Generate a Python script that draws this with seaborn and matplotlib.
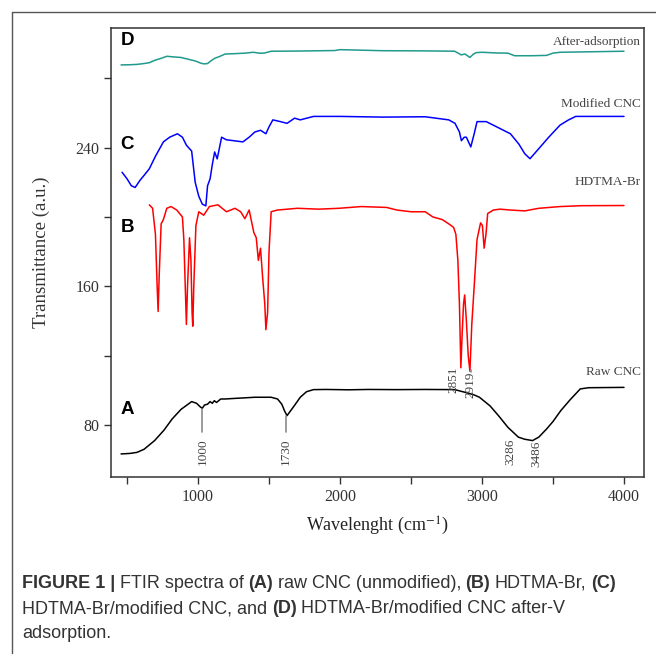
import numpy as np
import pandas as pd
import matplotlib
matplotlib.use('Agg')
import matplotlib.pyplot as plt
from matplotlib.lines import Line2D
from matplotlib.ticker import FixedLocator
import seaborn as sns

# ── data (wavenumber cm-1, transmittance a.u.) ─────────────────────────────
raw_x = [458, 520, 570, 620, 694, 760, 818, 880, 955, 990, 1015, 1030, 1045, 1067,
         1085, 1100, 1115, 1130, 1160, 1191, 1250, 1316, 1400, 1515, 1560, 1590, 1610,
         1627, 1650, 1677, 1720, 1764, 1813, 1900, 2062, 2200, 2400, 2600, 2808, 2883,
         2940, 2982, 3057, 3120, 3182, 3256, 3300, 3356, 3400, 3455, 3500, 3555, 3620,
         3692, 3750, 4000]
raw_y = [63.3, 63.6, 64.2, 66, 71, 77, 83.5, 89, 93.5, 92.5, 90.5, 89.6, 91.5, 92,
         93.5, 92.5, 94, 93, 95, 95, 95.3, 95.6, 96, 96, 95, 92, 88,
         85.4, 88, 91, 96, 99.2, 100.4, 100.5, 100.3, 100.5, 100.4, 100.5, 100.4, 98.8,
         97.5, 96, 91, 85, 78.7, 73, 71.8, 71, 73, 77.7, 82, 88.3, 94.5,
         100.8, 101.5, 101.7]

hdtma_x = [657, 680, 700, 712, 719, 726, 740, 756, 780, 810, 850, 890, 900, 910, 918,
           926, 940, 950, 958, 963, 970, 985, 1005, 1040, 1080, 1140, 1200, 1260, 1300,
           1330, 1360, 1393, 1410, 1425, 1440, 1455, 1470, 1478, 1490, 1500, 1515, 1560,
           1700, 1850, 1993, 2150, 2328, 2400, 2500, 2600, 2654, 2720, 2766, 2800, 2816,
           2830, 2841, 2851, 2860, 2870, 2878, 2890, 2903, 2915, 2928, 2945, 2965, 2990,
           3003, 3015, 3028, 3040, 3080, 3127, 3200, 3301, 3400, 3550, 3700, 4000]
hdtma_y = [207, 205, 190, 160, 145.5, 165, 196, 198.5, 205, 206, 204, 200, 187, 160, 138,
           160, 188, 175, 145, 137, 160, 195, 203, 201, 206, 207, 203, 205, 203,
           199, 204, 191, 188, 175, 182, 165, 150, 135, 145, 180, 203, 204,
           205, 204.5, 205, 206, 205.5, 204, 203, 203, 200, 198.5, 196, 194, 190,
           175, 150, 113, 132, 150, 155, 140, 120, 111, 138, 160, 187, 196.6,
           195, 182, 190, 202, 204, 204.5, 204, 203.5, 205, 206, 206.5, 206.6]

mod_x = [465, 500, 530, 557, 590, 620, 657, 700, 756, 800, 855, 890, 918, 955, 980,
         1005, 1030, 1055, 1067, 1085, 1100, 1117, 1135, 1166, 1200, 1250, 1316, 1360,
         1400, 1440, 1478, 1500, 1527, 1580, 1627, 1680, 1720, 1813, 2000, 2300, 2600,
         2766, 2810, 2841, 2855, 2875, 2890, 2921, 2945, 2965, 3030, 3127, 3200, 3260,
         3301, 3338, 3400, 3470, 3550, 3610, 3660, 4000]
mod_y = [225.8, 222, 218, 217, 221, 224, 227.8, 235, 243.3, 246, 248, 246, 241.4, 238, 220,
         212, 207.4, 206.4, 218, 222, 230, 237.5, 233.5, 246, 244.5, 244, 243.3, 246,
         249, 250, 248, 252, 256, 255, 254, 257, 256, 258, 258, 257.6, 257.8,
         256, 254, 249, 244, 246, 246, 240.4, 248, 255, 255, 251, 248, 242,
         236.5, 233.6, 239.4, 246, 253, 256, 258, 258]

after_x = [458, 520, 570, 620, 657, 700, 740, 781, 830, 880, 930, 980, 1020, 1042, 1067,
           1090, 1117, 1150, 1191, 1260, 1330, 1390, 1430, 1465, 1515, 1700, 1963, 2000,
           2300, 2600, 2808, 2853, 2880, 2915, 2940, 2960, 3003, 3100, 3182, 3230, 3276,
           3350, 3455, 3500, 3550, 4000]
after_y = [287.7, 287.8, 288, 288.5, 289, 290.5, 291.5, 292.7, 292.3, 292, 291, 290, 288.7,
           288.3, 288.5, 290, 291.5, 292.5, 294, 294.2, 294.5, 295, 294.5, 294.5, 295.6,
           295.7, 296, 296.5, 295.9, 295.8, 295.6, 293.5, 294, 292, 294, 294.8, 295,
           294.6, 294.5, 293, 293, 293, 293.2, 294.5, 295, 295.6]

series_names = ['Raw CNC', 'HDTMA-Br', 'Modified CNC', 'After-adsorption']
series_letters = ['A', 'B', 'C', 'D']
label_y = [110.4, 220, 265.2, 301]
letter_y = [88.7, 193.8, 241.7, 302]

peak_labels = ['1000', '1730', '2851', '2919', '3286', '3486']
peak_x = [1030, 1617, 2800, 2922, 3199, 3386]
peak_text_top = [72, 72, 114, 111, 72, 71]
peak_line = [(89, 76), (85, 76), None, (112, 110.5), None, None]

COLORS = ['#000000', '#ff0000', '#0000ff', '#1f9a8c']

# ── figure ──────────────────────────────────────────────────────────────────
sns.set_style('ticks')
plt.rcParams['font.family'] = ['Liberation Serif', 'DejaVu Serif']
plt.rcParams['mathtext.fontset'] = 'stix'

fig = plt.figure(figsize=(6.56, 6.54), dpi=100)
ax = fig.add_axes([111 / 656, 1 - 477 / 654, 533 / 656, 449 / 654])

frames = []
for name, xs, ys in zip(series_names, [raw_x, hdtma_x, mod_x, after_x],
                        [raw_y, hdtma_y, mod_y, after_y]):
    frames.append(pd.DataFrame({'wavenumber': xs, 'T': ys, 'sample': name}))
df = pd.concat(frames, ignore_index=True)

for name, col in zip(series_names, COLORS):
    sub = df[df['sample'] == name]
    sns.lineplot(data=sub, x='wavenumber', y='T', color=col, lw=1.1,
                 estimator=None, sort=False, ax=ax, legend=False)

ax.set_xlim(387, 4141)
ax.set_ylim(50, 309)

# curve names + panel letters
for name, ly, letter, py in zip(series_names, label_y, series_letters, letter_y):
    ax.text(4120, ly, name, ha='right', va='center', fontsize=9.5, color='#444444')
    ax.text(455, py, letter, ha='left', va='center', fontsize=13.5, fontweight='bold',
            family=['Liberation Sans', 'DejaVu Sans'], color='black')

# peak markers
for lab, px, top, ln in zip(peak_labels, peak_x, peak_text_top, peak_line):
    if ln is not None:
        ax.plot([px, px], list(ln), color='#8a8a8a', lw=1.2)
    ax.text(px, top, lab, rotation=90, ha='center', va='top', fontsize=9.5,
            color='#444444')

ax.xaxis.set_major_locator(FixedLocator([1000, 2000, 3000, 4000]))
ax.xaxis.set_minor_locator(FixedLocator([500, 1500, 2500, 3500]))
ax.yaxis.set_major_locator(FixedLocator([80, 160, 240]))
ax.yaxis.set_minor_locator(FixedLocator([120, 200, 280]))
ax.tick_params(which='both', direction='out', length=5, width=1, color='#333333',
               labelsize=11.5, labelcolor='#333333')
for sp in ax.spines.values():
    sp.set_visible(True)
    sp.set_color('#333333')
    sp.set_linewidth(1.1)

ax.set_xlabel('Wavelenght (cm$^{-1}$)', fontsize=13, color='#222222', labelpad=7)
ax.set_ylabel('Transmittance (a.u.)', fontsize=13.5, color='#333333', labelpad=18)

# outer frame of the figure panel
fig.add_artist(Line2D([12 / 656, 12 / 656], [1 - 12 / 654, 0], transform=fig.transFigure,
                      color='#555555', lw=1))
fig.add_artist(Line2D([12 / 656, 1], [1 - 12 / 654, 1 - 12 / 654], transform=fig.transFigure,
                      color='#555555', lw=1))

# caption with mixed bold pieces
cap_font = ['Liberation Sans', 'DejaVu Sans']
caption_lines = [
    [('FIGURE 1 |', True), ('FTIR spectra of', False), ('(A)', True),
     ('raw CNC (unmodified),', False), ('(B)', True), ('HDTMA-Br,', False), ('(C)', True)],
    [('HDTMA-Br/modified CNC, and', False), ('(D)', True),
     ('HDTMA-Br/modified CNC after-V', False)],
    [('adsorption.', False)],
]
cap_y = [1 - 592 / 654, 1 - 617 / 654, 1 - 642 / 654]
cap_size = 13
for line, yy in zip(caption_lines, cap_y):
    prev = None
    for txt, bold in line:
        kw = dict(fontsize=cap_size, family=cap_font, color='#333333',
                  fontweight='bold' if bold else 'normal', ha='left', va='bottom')
        if prev is None:
            prev = fig.text(22 / 656, yy, txt, **kw)
        else:
            prev = ax.annotate(txt, xy=(1, 0), xycoords=prev, xytext=(3.3, 0),
                               textcoords='offset points', annotation_clip=False, **kw)

fig.savefig('out.png', dpi=100)
